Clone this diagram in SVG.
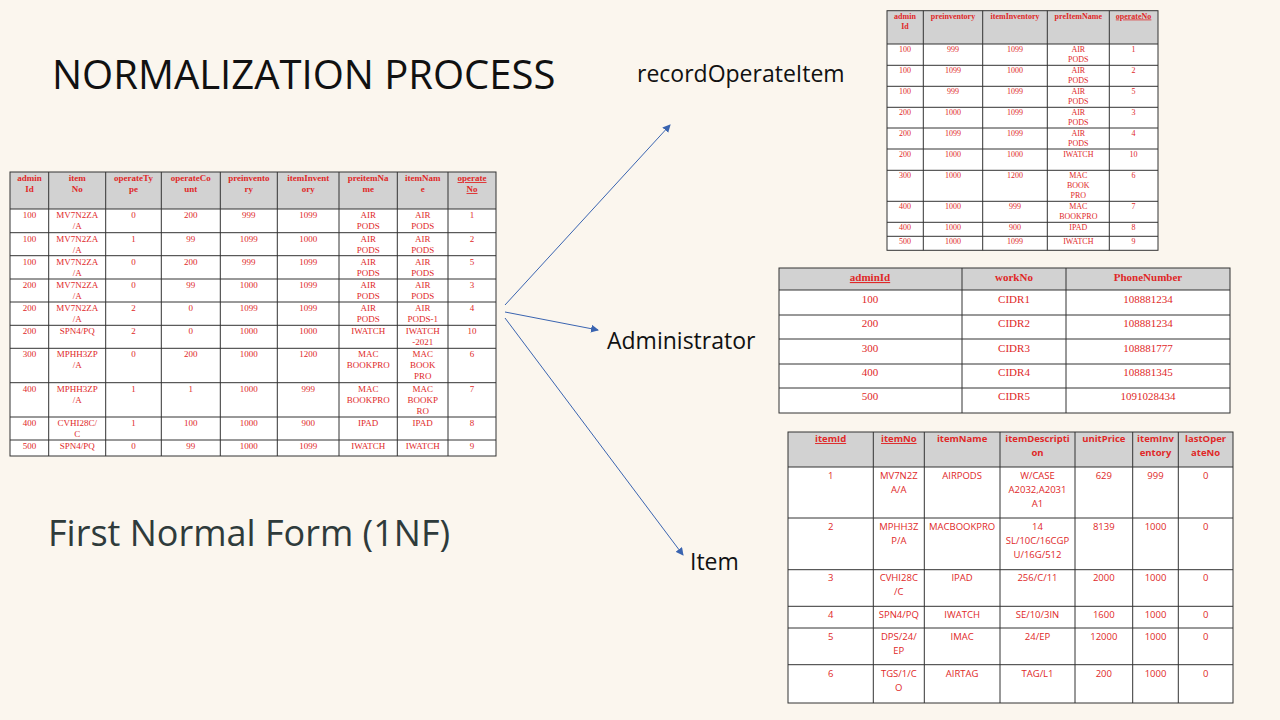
<svg xmlns="http://www.w3.org/2000/svg" width="1280" height="720" viewBox="0 0 1280 720">
<style>
.s{font-family:"Liberation Serif",serif;font-size:9px;fill:#e02828;text-anchor:middle}
.sb{font-family:"Liberation Serif",serif;font-size:9px;fill:#e02828;text-anchor:middle;font-weight:bold}
.s8{font-family:"Liberation Serif",serif;font-size:8px;fill:#e02828;text-anchor:middle}
.s8b{font-family:"Liberation Serif",serif;font-size:8px;fill:#e02828;text-anchor:middle;font-weight:bold}
.a{font-family:"Liberation Serif",serif;font-size:11px;fill:#e02828;text-anchor:middle}
.ab{font-family:"Liberation Serif",serif;font-size:11px;fill:#e02828;text-anchor:middle;font-weight:bold}
.i{font-family:"Open Sans","Liberation Sans",sans-serif;font-size:9.5px;fill:#e02828;text-anchor:middle}
.ib{font-family:"Open Sans","Liberation Sans",sans-serif;font-size:9.5px;fill:#e02828;text-anchor:middle;font-weight:bold}
.u{text-decoration:underline}
.g{stroke:#333;stroke-width:1;fill:none}
.lab{font-family:"Open Sans","Liberation Sans",sans-serif;fill:#111}
.con{stroke:#3a64b0;stroke-width:1;fill:none;marker-end:url(#ah)}
</style>
<defs><marker id="ah" markerWidth="8" markerHeight="8" refX="7" refY="4" orient="auto" markerUnits="userSpaceOnUse"><path d="M0,0 L8,4 L0,8 z" fill="#3a64b0"/></marker></defs>
<rect width="1280" height="720" fill="#fbf6ee"/>
<text class="lab" x="52" y="89" font-size="40">NORMALIZATION PROCESS</text>
<text class="lab" x="48" y="546" font-size="36" fill="#2f3b3b" style="fill:#2f3b3b">First Normal Form (1NF)</text>

<g id="connectors">
<path class="con" d="M505,305 L670,125"/>
<path class="con" d="M505,312 L598,330"/>
<path class="con" d="M505,318 L683,555"/>
</g>
<g id="lbl-record"><text class="lab" x="637" y="82" font-size="23">recordOperateItem</text></g>
<g id="lbl-admin"><text class="lab" x="607" y="349" font-size="23">Administrator</text></g>
<g id="lbl-item"><text class="lab" x="690" y="570" font-size="23">Item</text></g>

<g id="table-1nf">
<rect x="10" y="172" width="486" height="37" fill="#d2d2d2"/>
<rect x="10" y="209" width="486" height="247" fill="#fff"/>
<rect class="g" x="10" y="172" width="486" height="284"/>
<path class="g" d="M48.7,172V456M105.7,172V456M161.3,172V456M220.3,172V456M277.3,172V456M339,172V456M397.3,172V456M448,172V456M10,209H496M10,232.7H496M10,255.7H496M10,279H496M10,302H496M10,325.3H496M10,348.3H496M10,382.7H496M10,417H496M10,440H496"/>
<g class="sb"><text x="29.4" y="181">admin<tspan x="29.4" dy="11">Id</tspan></text><text x="77.2" y="181">item<tspan x="77.2" dy="11">No</tspan></text><text x="133.5" y="181">operateTy<tspan x="133.5" dy="11">pe</tspan></text><text x="190.8" y="181">operateCo<tspan x="190.8" dy="11">unt</tspan></text><text x="248.8" y="181">preinvento<tspan x="248.8" dy="11">ry</tspan></text><text x="308.2" y="181">itemInvent<tspan x="308.2" dy="11">ory</tspan></text><text x="368.2" y="181">preitemNa<tspan x="368.2" dy="11">me</tspan></text><text x="422.7" y="181">itemNam<tspan x="422.7" dy="11">e</tspan></text><text class="u" x="472" y="181">operate<tspan x="472" dy="11">No</tspan></text></g>
<g class="s">
<text x="29.4" y="218">100</text><text x="77.2" y="218">MV7N2ZA<tspan x="77.2" dy="11">/A</tspan></text><text x="133.5" y="218">0</text><text x="190.8" y="218">200</text><text x="248.8" y="218">999</text><text x="308.2" y="218">1099</text><text x="368.2" y="218">AIR<tspan x="368.2" dy="11">PODS</tspan></text><text x="422.7" y="218">AIR<tspan x="422.7" dy="11">PODS</tspan></text><text x="472" y="218">1</text>
<text x="29.4" y="241.7">100</text><text x="77.2" y="241.7">MV7N2ZA<tspan x="77.2" dy="11">/A</tspan></text><text x="133.5" y="241.7">1</text><text x="190.8" y="241.7">99</text><text x="248.8" y="241.7">1099</text><text x="308.2" y="241.7">1000</text><text x="368.2" y="241.7">AIR<tspan x="368.2" dy="11">PODS</tspan></text><text x="422.7" y="241.7">AIR<tspan x="422.7" dy="11">PODS</tspan></text><text x="472" y="241.7">2</text>
<text x="29.4" y="264.7">100</text><text x="77.2" y="264.7">MV7N2ZA<tspan x="77.2" dy="11">/A</tspan></text><text x="133.5" y="264.7">0</text><text x="190.8" y="264.7">200</text><text x="248.8" y="264.7">999</text><text x="308.2" y="264.7">1099</text><text x="368.2" y="264.7">AIR<tspan x="368.2" dy="11">PODS</tspan></text><text x="422.7" y="264.7">AIR<tspan x="422.7" dy="11">PODS</tspan></text><text x="472" y="264.7">5</text>
<text x="29.4" y="288">200</text><text x="77.2" y="288">MV7N2ZA<tspan x="77.2" dy="11">/A</tspan></text><text x="133.5" y="288">0</text><text x="190.8" y="288">99</text><text x="248.8" y="288">1000</text><text x="308.2" y="288">1099</text><text x="368.2" y="288">AIR<tspan x="368.2" dy="11">PODS</tspan></text><text x="422.7" y="288">AIR<tspan x="422.7" dy="11">PODS</tspan></text><text x="472" y="288">3</text>
<text x="29.4" y="311">200</text><text x="77.2" y="311">MV7N2ZA<tspan x="77.2" dy="11">/A</tspan></text><text x="133.5" y="311">2</text><text x="190.8" y="311">0</text><text x="248.8" y="311">1099</text><text x="308.2" y="311">1099</text><text x="368.2" y="311">AIR<tspan x="368.2" dy="11">PODS</tspan></text><text x="422.7" y="311">AIR<tspan x="422.7" dy="11">PODS-1</tspan></text><text x="472" y="311">4</text>
<text x="29.4" y="334.3">200</text><text x="77.2" y="334.3">SPN4/PQ</text><text x="133.5" y="334.3">2</text><text x="190.8" y="334.3">0</text><text x="248.8" y="334.3">1000</text><text x="308.2" y="334.3">1000</text><text x="368.2" y="334.3">IWATCH</text><text x="422.7" y="334.3">IWATCH<tspan x="422.7" dy="11">-2021</tspan></text><text x="472" y="334.3">10</text>
<text x="29.4" y="357.3">300</text><text x="77.2" y="357.3">MPHH3ZP<tspan x="77.2" dy="11">/A</tspan></text><text x="133.5" y="357.3">0</text><text x="190.8" y="357.3">200</text><text x="248.8" y="357.3">1000</text><text x="308.2" y="357.3">1200</text><text x="368.2" y="357.3">MAC<tspan x="368.2" dy="11">BOOKPRO</tspan></text><text x="422.7" y="357.3">MAC<tspan x="422.7" dy="11">BOOK</tspan><tspan x="422.7" dy="11">PRO</tspan></text><text x="472" y="357.3">6</text>
<text x="29.4" y="391.7">400</text><text x="77.2" y="391.7">MPHH3ZP<tspan x="77.2" dy="11">/A</tspan></text><text x="133.5" y="391.7">1</text><text x="190.8" y="391.7">1</text><text x="248.8" y="391.7">1000</text><text x="308.2" y="391.7">999</text><text x="368.2" y="391.7">MAC<tspan x="368.2" dy="11">BOOKPRO</tspan></text><text x="422.7" y="391.7">MAC<tspan x="422.7" dy="11">BOOKP</tspan><tspan x="422.7" dy="11">RO</tspan></text><text x="472" y="391.7">7</text>
<text x="29.4" y="426">400</text><text x="77.2" y="426">CVHI28C/<tspan x="77.2" dy="11">C</tspan></text><text x="133.5" y="426">1</text><text x="190.8" y="426">100</text><text x="248.8" y="426">1000</text><text x="308.2" y="426">900</text><text x="368.2" y="426">IPAD</text><text x="422.7" y="426">IPAD</text><text x="472" y="426">8</text>
<text x="29.4" y="449">500</text><text x="77.2" y="449">SPN4/PQ</text><text x="133.5" y="449">0</text><text x="190.8" y="449">99</text><text x="248.8" y="449">1000</text><text x="308.2" y="449">1099</text><text x="368.2" y="449">IWATCH</text><text x="422.7" y="449">IWATCH</text><text x="472" y="449">9</text>
</g>
</g>

<g id="table-record">
<rect x="887" y="10.7" width="271" height="33.3" fill="#d2d2d2"/>
<rect x="887" y="44" width="271" height="206.3" fill="#fff"/>
<rect class="g" x="887" y="10.7" width="271" height="239.6"/>
<path class="g" d="M923.3,10.7V250.3M982.7,10.7V250.3M1047.3,10.7V250.3M1109.3,10.7V250.3M887,44H1158M887,65.3H1158M887,86.3H1158M887,107.3H1158M887,128H1158M887,149H1158M887,170.3H1158M887,201.3H1158M887,222.3H1158M887,236.3H1158"/>
<g class="s8b"><text x="905" y="18.5">admin<tspan x="905" dy="10">Id</tspan></text><text x="953" y="18.5">preinventory</text><text x="1015" y="18.5">itemInventory</text><text x="1078.3" y="18.5">preItemName</text><text class="u" x="1133.6" y="18.5">operateNo</text></g>
<g class="s8">
<text x="905" y="52">100</text><text x="953" y="52">999</text><text x="1015" y="52">1099</text><text x="1078.3" y="52">AIR<tspan x="1078.3" dy="10">PODS</tspan></text><text x="1133.6" y="52">1</text>
<text x="905" y="73">100</text><text x="953" y="73">1099</text><text x="1015" y="73">1000</text><text x="1078.3" y="73">AIR<tspan x="1078.3" dy="10">PODS</tspan></text><text x="1133.6" y="73">2</text>
<text x="905" y="94">100</text><text x="953" y="94">999</text><text x="1015" y="94">1099</text><text x="1078.3" y="94">AIR<tspan x="1078.3" dy="10">PODS</tspan></text><text x="1133.6" y="94">5</text>
<text x="905" y="115">200</text><text x="953" y="115">1000</text><text x="1015" y="115">1099</text><text x="1078.3" y="115">AIR<tspan x="1078.3" dy="10">PODS</tspan></text><text x="1133.6" y="115">3</text>
<text x="905" y="136">200</text><text x="953" y="136">1099</text><text x="1015" y="136">1099</text><text x="1078.3" y="136">AIR<tspan x="1078.3" dy="10">PODS</tspan></text><text x="1133.6" y="136">4</text>
<text x="905" y="157">200</text><text x="953" y="157">1000</text><text x="1015" y="157">1000</text><text x="1078.3" y="157">IWATCH</text><text x="1133.6" y="157">10</text>
<text x="905" y="178">300</text><text x="953" y="178">1000</text><text x="1015" y="178">1200</text><text x="1078.3" y="178">MAC<tspan x="1078.3" dy="10">BOOK</tspan><tspan x="1078.3" dy="10">PRO</tspan></text><text x="1133.6" y="178">6</text>
<text x="905" y="209">400</text><text x="953" y="209">1000</text><text x="1015" y="209">999</text><text x="1078.3" y="209">MAC<tspan x="1078.3" dy="10">BOOKPRO</tspan></text><text x="1133.6" y="209">7</text>
<text x="905" y="230">400</text><text x="953" y="230">1000</text><text x="1015" y="230">900</text><text x="1078.3" y="230">IPAD</text><text x="1133.6" y="230">8</text>
<text x="905" y="244">500</text><text x="953" y="244">1000</text><text x="1015" y="244">1099</text><text x="1078.3" y="244">IWATCH</text><text x="1133.6" y="244">9</text>
</g>
</g>

<g id="table-admin">
<rect x="779" y="268" width="451" height="22" fill="#d2d2d2"/>
<rect x="779" y="290" width="451" height="123" fill="#fff"/>
<rect class="g" x="779" y="268" width="451" height="145"/>
<path class="g" d="M962,268V413M1066,268V413M779,290H1230M779,315H1230M779,339H1230M779,364H1230M779,388H1230"/>
<g class="ab"><text class="u" x="870" y="281">adminId</text><text x="1014" y="281">workNo</text><text x="1148" y="281">PhoneNumber</text></g>
<g class="a">
<text x="870" y="303">100</text><text x="1014" y="303">CIDR1</text><text x="1148" y="303">108881234</text>
<text x="870" y="327">200</text><text x="1014" y="327">CIDR2</text><text x="1148" y="327">108881234</text>
<text x="870" y="352">300</text><text x="1014" y="352">CIDR3</text><text x="1148" y="352">108881777</text>
<text x="870" y="376">400</text><text x="1014" y="376">CIDR4</text><text x="1148" y="376">108881345</text>
<text x="870" y="400">500</text><text x="1014" y="400">CIDR5</text><text x="1148" y="400">1091028434</text>
</g>
</g>

<g id="table-item">
<rect x="788" y="432" width="445" height="35" fill="#d2d2d2"/>
<rect x="788" y="467" width="445" height="236" fill="#fff"/>
<rect class="g" x="788" y="432" width="445" height="271"/>
<path class="g" d="M873.3,432V703M924.3,432V703M1000,432V703M1075,432V703M1132.7,432V703M1178.3,432V703M788,467H1233M788,518H1233M788,569.7H1233M788,606.3H1233M788,628H1233M788,664.7H1233"/>
<g class="ib"><text class="u" x="830.6" y="442">itemId</text><text class="u" x="898.8" y="442">itemNo</text><text x="962.1" y="442">itemName</text><text x="1037.5" y="442">itemDescripti<tspan x="1037.5" dy="14">on</tspan></text><text x="1103.8" y="442">unitPrice</text><text x="1155.5" y="442">itemInv<tspan x="1155.5" dy="14">entory</tspan></text><text x="1205.6" y="442">lastOper<tspan x="1205.6" dy="14">ateNo</tspan></text></g>
<g class="i">
<text x="830.6" y="479">1</text><text x="898.8" y="479">MV7N2Z<tspan x="898.8" dy="14">A/A</tspan></text><text x="962.1" y="479">AIRPODS</text><text x="1037.5" y="479">W/CASE<tspan x="1037.5" dy="14">A2032,A2031</tspan><tspan x="1037.5" dy="14">A1</tspan></text><text x="1103.8" y="479">629</text><text x="1155.5" y="479">999</text><text x="1205.6" y="479">0</text>
<text x="830.6" y="530">2</text><text x="898.8" y="530">MPHH3Z<tspan x="898.8" dy="14">P/A</tspan></text><text x="962.1" y="530">MACBOOKPRO</text><text x="1037.5" y="530">14<tspan x="1037.5" dy="14">SL/10C/16CGP</tspan><tspan x="1037.5" dy="14">U/16G/512</tspan></text><text x="1103.8" y="530">8139</text><text x="1155.5" y="530">1000</text><text x="1205.6" y="530">0</text>
<text x="830.6" y="581">3</text><text x="898.8" y="581">CVHI28C<tspan x="898.8" dy="14">/C</tspan></text><text x="962.1" y="581">IPAD</text><text x="1037.5" y="581">256/C/11</text><text x="1103.8" y="581">2000</text><text x="1155.5" y="581">1000</text><text x="1205.6" y="581">0</text>
<text x="830.6" y="618">4</text><text x="898.8" y="618">SPN4/PQ</text><text x="962.1" y="618">IWATCH</text><text x="1037.5" y="618">SE/10/3IN</text><text x="1103.8" y="618">1600</text><text x="1155.5" y="618">1000</text><text x="1205.6" y="618">0</text>
<text x="830.6" y="640">5</text><text x="898.8" y="640">DPS/24/<tspan x="898.8" dy="14">EP</tspan></text><text x="962.1" y="640">IMAC</text><text x="1037.5" y="640">24/EP</text><text x="1103.8" y="640">12000</text><text x="1155.5" y="640">1000</text><text x="1205.6" y="640">0</text>
<text x="830.6" y="677">6</text><text x="898.8" y="677">TGS/1/C<tspan x="898.8" dy="14">O</tspan></text><text x="962.1" y="677">AIRTAG</text><text x="1037.5" y="677">TAG/L1</text><text x="1103.8" y="677">200</text><text x="1155.5" y="677">1000</text><text x="1205.6" y="677">0</text>
</g>
</g>
</svg>
